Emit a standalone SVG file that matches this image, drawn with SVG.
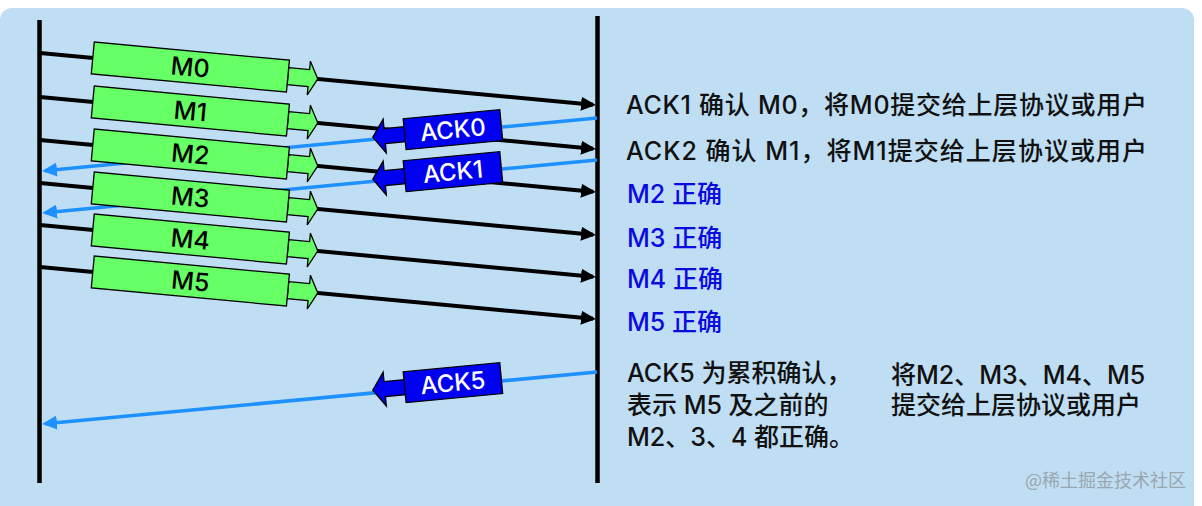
<svg xmlns="http://www.w3.org/2000/svg" xmlns:xlink="http://www.w3.org/1999/xlink" width="1202" height="506" viewBox="0 0 1202 506">
<style>
.msgline{stroke:#000;stroke-width:4;fill:none}
.ackline{stroke:#1E90FF;stroke-width:3.6;fill:none}
.vline{stroke:#000;stroke-width:4.5}
.green{fill:#66FF66;stroke:#000;stroke-width:1.3}
.blue{fill:#0000F0;stroke:#000;stroke-width:1.3}
.mlabel{font-family:Inter,"Noto Sans CJK SC",sans-serif;font-weight:500;font-size:25px;fill:#000;text-anchor:middle}
.alabel{font-family:Inter,"Noto Sans CJK SC",sans-serif;font-weight:500;font-size:24px;fill:#fff;text-anchor:middle}
.note{font-family:Inter,"Noto Sans CJK SC",sans-serif;font-weight:500;font-size:25px;fill:#111}
.ok{font-family:Inter,"Noto Sans CJK SC",sans-serif;font-weight:500;font-size:25px;fill:#0B0BE0}
.wm{font-family:"Noto Sans CJK SC",sans-serif;font-size:18px;fill:#9AA6B0}
</style>
<defs>
<marker id="ab" markerUnits="userSpaceOnUse" markerWidth="15" markerHeight="14" refX="12" refY="7" orient="auto">
<path d="M0,0 L15,7 L0,14 z" fill="#000"/>
</marker>
<marker id="au" markerUnits="userSpaceOnUse" markerWidth="15" markerHeight="14" refX="12" refY="7" orient="auto">
<path d="M0,0 L15,7 L0,14 z" fill="#1E90FF"/>
</marker>
<g id="msgbox">
<polygon class="green" points="249,-8.5 270,-8.5 270,-17 279,0 270,17 270,8.5 249,8.5"/>
<rect class="green" x="53" y="-16" width="196" height="32"/>
</g>
<g id="ackbox">
<polygon class="blue" points="365,-10 344.5,-10 344.5,-19.5 332.5,-2.5 344.5,14.5 344.5,5 365,5"/>
<rect class="blue" x="364.5" y="-18" width="97" height="31"/>
</g>
</defs>
<rect x="0" y="8" width="1194" height="520" rx="12" fill="#BFDEF3"/>
<g id="timelines">
<line class="vline" x1="39.5" y1="20" x2="39.5" y2="483"/>
<line class="vline" x1="597.5" y1="16" x2="597.5" y2="483"/>
</g>
<g id="connectors">
<line class="msgline" x1="40" y1="53" x2="593" y2="104.8" marker-end="url(#ab)"/>
<line class="msgline" x1="40" y1="97" x2="593" y2="148.8" marker-end="url(#ab)"/>
<line class="msgline" x1="40" y1="140" x2="593" y2="191.8" marker-end="url(#ab)"/>
<line class="msgline" x1="40" y1="183" x2="593" y2="234.8" marker-end="url(#ab)"/>
<line class="msgline" x1="40" y1="225" x2="593" y2="276.8" marker-end="url(#ab)"/>
<line class="msgline" x1="40" y1="267" x2="593" y2="318.8" marker-end="url(#ab)"/>
<line class="ackline" x1="597" y1="118" x2="45" y2="170.7" marker-end="url(#au)"/>
<line class="ackline" x1="597" y1="160" x2="45" y2="212.7" marker-end="url(#au)"/>
<line class="ackline" x1="597" y1="372" x2="45" y2="423.7" marker-end="url(#au)"/>
</g>
<g id="M0" transform="translate(40,53) rotate(5.33)"><use xlink:href="#msgbox"/><text class="mlabel" x="151" y="9">M0</text></g>
<g id="M1" transform="translate(40,97) rotate(5.33)"><use xlink:href="#msgbox"/><text class="mlabel" x="151" y="9">M1</text></g>
<g id="M2" transform="translate(40,140) rotate(5.33)"><use xlink:href="#msgbox"/><text class="mlabel" x="151" y="9">M2</text></g>
<g id="M3" transform="translate(40,183) rotate(5.33)"><use xlink:href="#msgbox"/><text class="mlabel" x="151" y="9">M3</text></g>
<g id="M4" transform="translate(40,225) rotate(5.33)"><use xlink:href="#msgbox"/><text class="mlabel" x="151" y="9">M4</text></g>
<g id="M5" transform="translate(40,267) rotate(5.33)"><use xlink:href="#msgbox"/><text class="mlabel" x="151" y="9">M5</text></g>
<g id="ACK0" transform="translate(42,171) rotate(-5.4)"><use xlink:href="#ackbox"/><text class="alabel" x="413" y="6">ACK0</text></g>
<g id="ACK1" transform="translate(42,213) rotate(-5.4)"><use xlink:href="#ackbox"/><text class="alabel" x="413" y="6">ACK1</text></g>
<g id="ACK5" transform="translate(42,424) rotate(-5.4)"><use xlink:href="#ackbox"/><text class="alabel" x="413" y="6">ACK5</text></g>
<g id="notes">
<text class="note" x="626" y="114" textLength="521" lengthAdjust="spacing">ACK1 确认 M0，将M0提交给上层协议或用户</text>
<text class="note" x="626" y="160" textLength="521" lengthAdjust="spacing">ACK2 确认 M1，将M1提交给上层协议或用户</text>
<text class="ok" x="627" y="203">M2 正确</text>
<text class="ok" x="627" y="247">M3 正确</text>
<text class="ok" x="627" y="288">M4 正确</text>
<text class="ok" x="627" y="331">M5 正确</text>
<text class="note" x="627" y="382">ACK5 为累积确认，</text>
<text class="note" x="627" y="414">表示 M5 及之前的</text>
<text class="note" x="627" y="446">M2、3、4 都正确。</text>
<text class="note" x="891" y="384">将M2、M3、M4、M5</text>
<text class="note" x="891" y="414">提交给上层协议或用户</text>
<text class="wm" x="1025" y="487">@稀土掘金技术社区</text>
</g>
</svg>
